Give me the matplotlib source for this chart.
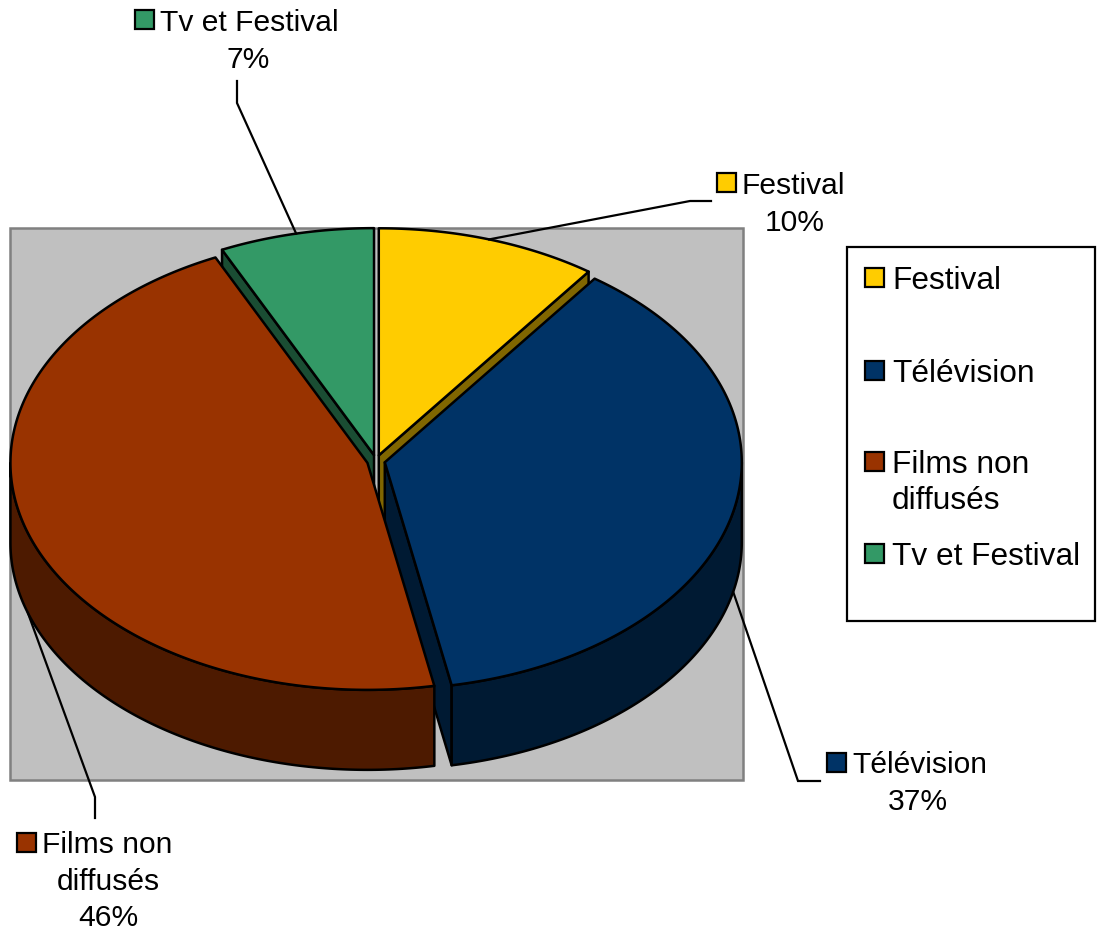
import numpy as np
import matplotlib
matplotlib.use('Agg')
import matplotlib.pyplot as plt
from matplotlib.patches import Polygon, Rectangle

# ---- data ----
categories = ['Festival', 'Télévision', 'Films non diffusés', 'Tv et Festival']
label_lines = [['Festival'], ['Télévision'], ['Films non', 'diffusés'], ['Tv et Festival']]
values = [10, 37, 46, 7]
pct_labels = ['10%', '37%', '46%', '7%']
top_colors = ['#FFCC00', '#003366', '#993300', '#339966']
side_colors = ['#806600', '#001A33', '#4D1A00', '#1A4D33']

W, H = 1097, 930
plt.rcParams['font.family'] = ['Liberation Sans', 'DejaVu Sans']
FS = 21.6
FS_LEG = 22.8

fig = plt.figure(figsize=(W / 100, H / 100), dpi=100)
ax = fig.add_axes([0, 0, 1, 1])
ax.set_xlim(0, W)
ax.set_ylim(H, 0)
ax.axis('off')

CX, CY = 376, 461
RX, RY = 357, 227
DEPTH = 80
EX, EY = 9, 6
LW = 1.8

# plot area background
ax.add_patch(Rectangle((10, 228), 733, 552, facecolor='#C0C0C0',
                       edgecolor='#808080', lw=1.8, zorder=0))

total = float(sum(values))
angles = np.cumsum([0] + values) / total * 360.0


def rim(cx, cy, th, dz=0.0):
    t = np.radians(th)
    return cx + RX * np.sin(t), cy - RY * np.cos(t) + dz


slices = []
for i, v in enumerate(values):
    a, b = angles[i], angles[i + 1]
    m = np.radians((a + b) / 2)
    cx = CX + EX * np.sin(m)
    cy = CY - EY * np.cos(m)
    slices.append((a, b, cx, cy))

# radial side faces
faces = []
for i, (a, b, cx, cy) in enumerate(slices):
    for th, vis in ((a, np.sin(np.radians(a)) < -1e-6),
                    (b, np.sin(np.radians(b)) > 1e-6)):
        if vis:
            rx, ry = rim(cx, cy, th)
            poly = [(cx, cy), (rx, ry), (rx, ry + DEPTH), (cx, cy + DEPTH)]
            faces.append(((ry + cy) / 2, poly, side_colors[i]))
faces.sort(key=lambda f: f[0])
for _, poly, c in faces:
    ax.add_patch(Polygon(poly, closed=True, facecolor=c, edgecolor='black',
                         lw=LW, joinstyle='round', zorder=2))

# outer walls (front part)
for i, (a, b, cx, cy) in enumerate(slices):
    lo, hi = max(a, 90), min(b, 270)
    if hi > lo:
        th = np.linspace(lo, hi, 150)
        xs, ys = rim(cx, cy, th)
        poly = np.column_stack([np.r_[xs, xs[::-1]], np.r_[ys, ys[::-1] + DEPTH]])
        ax.add_patch(Polygon(poly, closed=True, facecolor=side_colors[i],
                             edgecolor='black', lw=LW, joinstyle='round', zorder=3))

# top faces
for i, (a, b, cx, cy) in enumerate(slices):
    th = np.linspace(a, b, 300)
    xs, ys = rim(cx, cy, th)
    poly = np.column_stack([np.r_[cx, xs], np.r_[cy, ys]])
    ax.add_patch(Polygon(poly, closed=True, facecolor=top_colors[i],
                         edgecolor='black', lw=LW, joinstyle='round', zorder=4))

# data labels with leader lines
label_layout = [
    dict(kx=717, y=183, cx=795, elbow=(690, 201), end=(711, 201)),
    dict(kx=827, y=762, cx=918, elbow=(798, 781), end=(820, 781)),
    dict(kx=17, y=842, cx=108, elbow=(95, 797), end=(95, 818)),
    dict(kx=135, y=20, cx=248, elbow=(237, 103), end=(237, 81)),
]
STEP = 36.5
KS = 19
for i, (a, b, cx, cy) in enumerate(slices):
    L = label_layout[i]
    mid = (a + b) / 2
    front = 90 < mid < 270
    sx, sy = rim(cx, cy, mid, DEPTH if front else 0)
    ex_, ey_ = L['elbow']
    nx, ny = L['end']
    ax.plot([sx, ex_, nx], [sy, ey_, ny], color='black', lw=1.6, zorder=5,
            solid_joinstyle='miter')
    lines = label_lines[i] + [pct_labels[i]]
    y = L['y']
    ax.add_patch(Rectangle((L['kx'], y - KS / 2), KS, KS, facecolor=top_colors[i],
                           edgecolor='black', lw=1.6, zorder=6))
    ax.text(L['kx'] + 25, y, lines[0], fontsize=FS, ha='left', va='center_baseline',
            zorder=6)
    for j, t in enumerate(lines[1:]):
        ax.text(L['cx'], y + STEP * (j + 1), t, fontsize=FS, ha='center',
                va='center_baseline', zorder=6)

# legend
ax.add_patch(Rectangle((847, 247), 248, 374, facecolor='white', edgecolor='black',
                       lw=1.6, zorder=5))
leg_y = [277, 370, 461, 553]
for i, yy in enumerate(leg_y):
    ax.add_patch(Rectangle((865, yy - KS / 2), KS, KS, facecolor=top_colors[i],
                           edgecolor='black', lw=1.6, zorder=6))
    for j, t in enumerate(label_lines[i]):
        ax.text(892, yy + 36 * j, t, fontsize=FS_LEG, ha='left', va='center_baseline',
                zorder=6)

fig.savefig('out.png', dpi=100)
